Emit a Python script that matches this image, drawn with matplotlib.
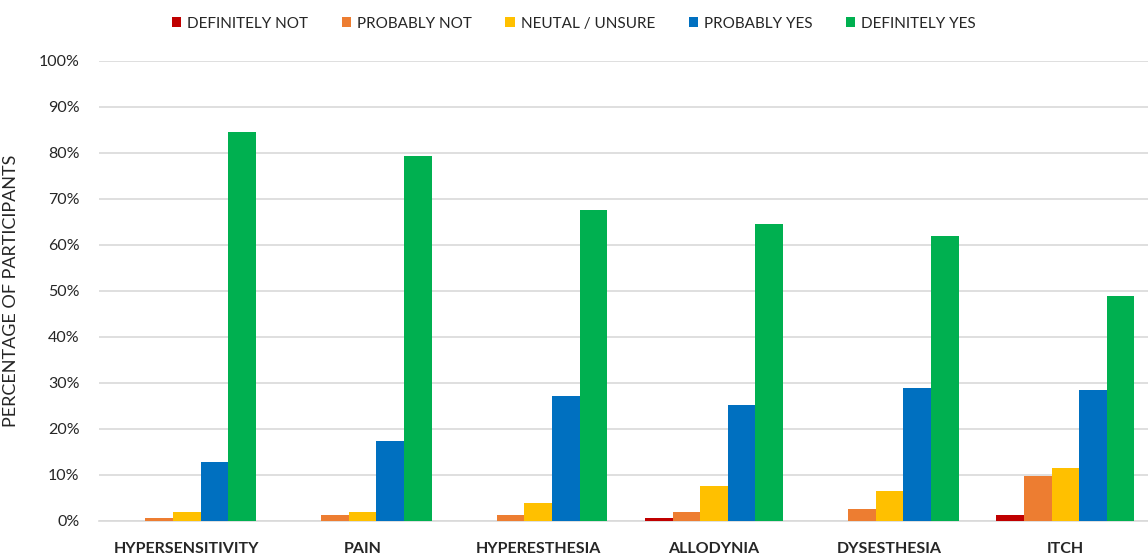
import numpy as np
import matplotlib.pyplot as plt
from matplotlib.ticker import PercentFormatter

plt.rcParams['font.family'] = ['Lato', 'DejaVu Sans']

categories = ['HYPERSENSITIVITY', 'PAIN', 'HYPERESTHESIA', 'ALLODYNIA', 'DYSESTHESIA', 'ITCH']
series_names = ['DEFINITELY NOT', 'PROBABLY NOT', 'NEUTAL / UNSURE', 'PROBABLY YES', 'DEFINITELY YES']
definitely_not = [0.0, 0.0, 0.0, 0.6, 0.0, 1.3]
probably_not = [0.6, 1.3, 1.3, 1.9, 2.6, 9.7]
neutral = [1.9, 1.9, 3.9, 7.7, 6.5, 11.6]
probably_yes = [12.9, 17.4, 27.1, 25.2, 29.0, 28.4]
definitely_yes = [84.5, 79.4, 67.7, 64.5, 61.9, 49.0]
colors = ['#C00000', '#ED7D31', '#FFC000', '#0070C0', '#00B050']

values = [definitely_not, probably_not, neutral, probably_yes, definitely_yes]

fig = plt.figure(figsize=(11.48, 5.55), dpi=100)
ax = fig.add_axes([99 / 1148, 34 / 555, 1 - 99 / 1148, (521 - 61) / 555])

x = np.arange(len(categories))
w = 0.157
for i, (name, vals, c) in enumerate(zip(series_names, values, colors)):
    ax.bar(x + (i - 2) * w, np.array(vals) / 100, width=w, color=c, label=name, zorder=3)

ax.set_xlim(-0.5, 5.47)
ax.set_ylim(0, 1.0)
ax.set_yticks(np.arange(0, 1.01, 0.1))
ax.yaxis.set_major_formatter(PercentFormatter(1.0, decimals=0))
ax.grid(axis='y', color='#D9D9D9', linewidth=1.2, zorder=0)
for s in ['top', 'right', 'left']:
    ax.spines[s].set_visible(False)
ax.spines['bottom'].set_color('#D9D9D9')
ax.spines['bottom'].set_linewidth(1.2)
ax.tick_params(axis='both', length=0, labelsize=11.5, colors='#262626')
ax.tick_params(axis='y', pad=14)
ax.tick_params(axis='x', pad=15)
ax.set_xticks(x)
ax.set_xticklabels(categories, fontweight='bold', fontsize=11.5)
ax.set_ylabel('PERCENTAGE OF PARTICIPANTS', fontsize=13, color='#262626', labelpad=14)

fig.legend(loc='upper center', bbox_to_anchor=(0.5, 0.995), ncol=5, frameon=False,
           fontsize=11, handlelength=0.6, handleheight=0.6, handletextpad=0.4,
           columnspacing=2.2, labelcolor='#262626')

fig.savefig('out.png', dpi=100)
